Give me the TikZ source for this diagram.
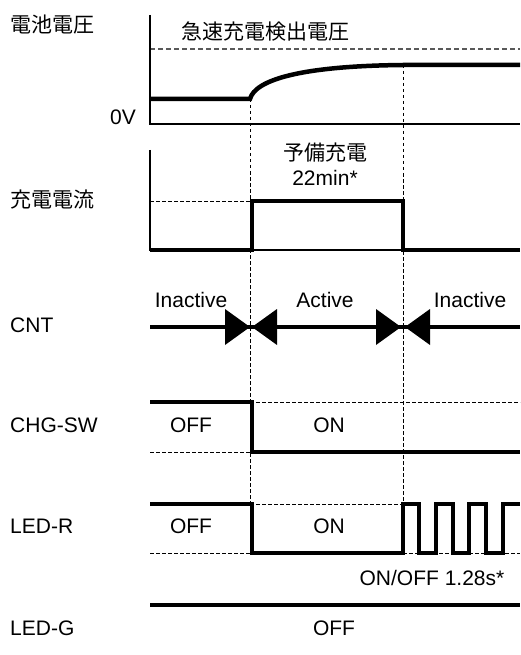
\documentclass[tikz,border=0pt]{standalone}
\usepackage{fontspec}
\setmainfont{Liberation Sans}
\newfontfamily\jpfont{Noto Sans CJK JP}
\begin{document}
\begin{tikzpicture}[x=1pt,y=-1pt,
  txt/.style={inner sep=0pt,font=\fontsize{21}{24}\selectfont},
  lbl/.style={txt,anchor=west},
  sig/.style={line width=4.5pt,line join=miter,line cap=butt},
  axis/.style={line width=1.2pt},
  guide/.style={line width=1pt,dash pattern=on 3.5pt off 2.5pt},
  refline/.style={line width=1.3pt,draw=black!65,dash pattern=on 5pt off 3pt},
  tri/.style={fill=black,draw=none}]
\useasboundingbox (0,0) rectangle (520,655);
% left labels
\node[lbl] (l1) at (10,25) {\jpfont 電池電圧};
\node[lbl] (l2) at (10,200) {\jpfont 充電電流};
\node[lbl] (l3) at (10,325) {CNT};
\node[lbl] (l4) at (10,425) {CHG-SW};
\node[lbl] (l5) at (10,526) {LED-R};
\node[lbl] (l6) at (10,628) {LED-G};
\node[txt,anchor=east] (zv) at (136,117) {0V};
% guides
\draw[guide] (250,99) -- (250,553);
\draw[guide] (403,65) -- (403,504);
\draw[refline] (150,49) -- (520,49);
\draw[guide] (150,201) -- (250,201);
\draw[guide] (250,402) -- (520,402);
\draw[guide] (150,452) -- (250,452);
\draw[guide] (250,504) -- (403,504);
\draw[guide] (150,553) -- (250,553);
\draw[guide] (403,553) -- (520,553);
% battery voltage
\draw[axis] (150,15) -- (150,124) -- (520,124);
\node[txt] (fast) at (265,32) {\jpfont 急速充電検出電圧};
\draw[sig] (150,99) -- (250,99) .. controls (255,80) and (300,66) .. (403,65) -- (520,65);
% charge current
\draw[axis] (150,150) -- (150,250) -- (520,250);
\draw[sig] (150,250) -- (252,250) -- (252,201) -- (403,201) -- (403,250) -- (520,250);
\node[txt] (pre1) at (325,153) {\jpfont 予備充電};
\node[txt] (pre2) at (325,178) {22min*};
% CNT
\draw[sig] (150,327) -- (520,327);
\fill[tri] (250,327) -- (225,309) -- (225,345) -- cycle;
\fill[tri] (252,327) -- (277,309) -- (277,345) -- cycle;
\fill[tri] (401,327) -- (376,309) -- (376,345) -- cycle;
\fill[tri] (405,327) -- (430,309) -- (430,345) -- cycle;
\node[txt] (in1) at (191,300) {Inactive};
\node[txt] (act) at (325,300) {Active};
\node[txt] (in2) at (470,300) {Inactive};
% CHG-SW
\draw[sig] (150,402) -- (252,402) -- (252,452) -- (520,452);
\node[txt] (off1) at (191,425) {OFF};
\node[txt] (on1) at (329,425) {ON};
% LED-R
\draw[sig] (150,504) -- (252,504) -- (252,553) -- (403,553) -- (403,504) -- (419,504)
  -- (419,553) -- (436,553) -- (436,504) -- (453,504) -- (453,553) -- (469,553)
  -- (469,504) -- (486,504) -- (486,553) -- (503,553) -- (503,504) -- (520,504);
\node[txt] (off2) at (191,526) {OFF};
\node[txt] (on2) at (329,526) {ON};
\node[txt] (blink) at (432,578) {ON/OFF 1.28s*};
% LED-G
\draw[sig] (150,605) -- (520,605);
\node[txt] (off3) at (334,628) {OFF};
\end{tikzpicture}
\end{document}
